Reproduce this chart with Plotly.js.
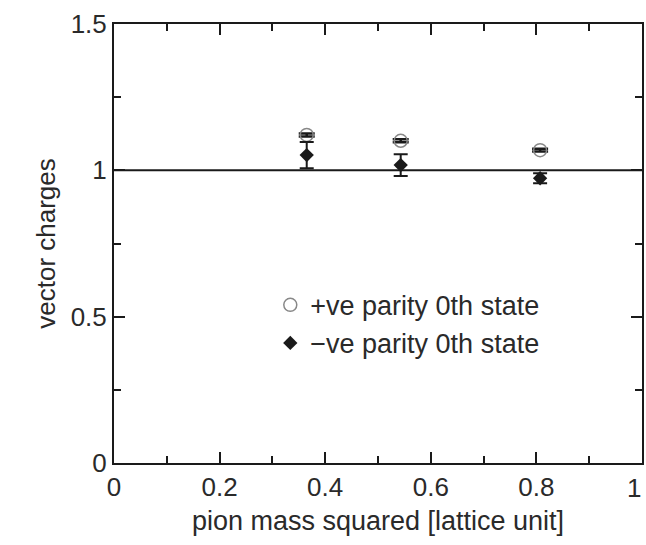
<!DOCTYPE html>
<html>
<head>
<meta charset="utf-8">
<script src="https://cdn.plot.ly/plotly-3.0.1.min.js"></script>
<style>html,body{margin:0;padding:0;background:#fff;}#chart{width:646px;height:545px;}</style>
</head>
<body>
<div id="chart"></div>
<script>
// pion mass squared [lattice unit]
const pionMassSq = [0.365, 0.543, 0.807];
// +ve parity 0th state
const posParity = [1.121, 1.101, 1.069];
const posParityErr = [0.005, 0.005, 0.005];
// -ve parity 0th state
const negParity = [1.052, 1.018, 0.973];
const negParityErr = [0.045, 0.037, 0.017];
// reference line at 1
const refX = [0, 1];
const refY = [1, 1];
// tick labels
const xTickVals = [0, 0.2, 0.4, 0.6, 0.8, 1];
const xTickText = ['0', '0.2', '0.4', '0.6', '0.8', '1'];
const yTickVals = [0, 0.5, 1, 1.5];
const yTickText = ['0', '0.5', '1', '1.5'];

const fontFam = 'Liberation Sans, Arial, sans-serif';
const ink = '#1a1a1a';
const txt = '#2a2a2a';

const lastIdx = xTickVals.length - 1;
// the label at the right edge is placed as a right-anchored annotation so it is not cut off
const xTickTextShown = xTickText.map((t, i) => i === lastIdx ? '' : t);

const traces = [
  {x: refX, y: refY, mode: 'lines', line: {color: ink, width: 2}, showlegend: false, hoverinfo: 'skip'},
  {x: pionMassSq, y: posParity, mode: 'markers', name: '+ve parity 0th state',
   marker: {symbol: 'circle-open', size: 13, color: '#888', line: {width: 1.5, color: '#888'}},
   error_y: {type: 'data', array: posParityErr, visible: true, color: ink, thickness: 2.5, width: 8}},
  {x: pionMassSq, y: negParity, mode: 'markers', name: '\u2212ve parity 0th state',
   marker: {symbol: 'diamond', size: 11, color: ink},
   error_y: {type: 'data', array: negParityErr, visible: true, color: ink, thickness: 2, width: 7}}
];

const axisCommon = {
  showline: true, linecolor: ink, linewidth: 2, mirror: 'ticks',
  ticks: 'inside', ticklen: 11, tickwidth: 2, tickcolor: ink,
  showgrid: false, zeroline: false,
  tickfont: {family: fontFam, size: 26, color: txt}
};

const layout = {
  width: 646, height: 545,
  margin: {l: 113.5, r: 3.5, t: 24, b: 82},
  paper_bgcolor: '#fff', plot_bgcolor: '#fff',
  showlegend: true,
  legend: {x: 0.296, y: 0.415, xanchor: 'left', yanchor: 'top', bgcolor: 'rgba(0,0,0,0)',
           font: {family: fontFam, size: 27, color: txt}, itemwidth: 30, tracegroupgap: 0},
  annotations: [{
    x: xTickVals[lastIdx], xref: 'x', y: 0, yref: 'paper', xanchor: 'right', yanchor: 'top',
    yshift: -8, xshift: 1, showarrow: false, text: xTickText[lastIdx],
    font: {family: fontFam, size: 26, color: txt}
  }],
  xaxis: Object.assign({}, axisCommon, {
    range: [0, 1], tickmode: 'array', tickvals: xTickVals, ticktext: xTickTextShown,
    minor: {dtick: 0.1, ticks: 'inside', ticklen: 7, tickwidth: 2, tickcolor: ink, showgrid: false},
    title: {text: 'pion mass squared [lattice unit]', font: {family: fontFam, size: 27, color: txt}, standoff: 10}
  }),
  yaxis: Object.assign({}, axisCommon, {
    range: [0, 1.5], tickmode: 'array', tickvals: yTickVals, ticktext: yTickText,
    minor: {dtick: 0.25, ticks: 'inside', ticklen: 7, tickwidth: 2, tickcolor: ink, showgrid: false},
    title: {text: 'vector charges', font: {family: fontFam, size: 26, color: txt}, standoff: 8}
  })
};

Plotly.newPlot('chart', traces, layout, {displayModeBar: false, staticPlot: true});
</script>
</body>
</html>
